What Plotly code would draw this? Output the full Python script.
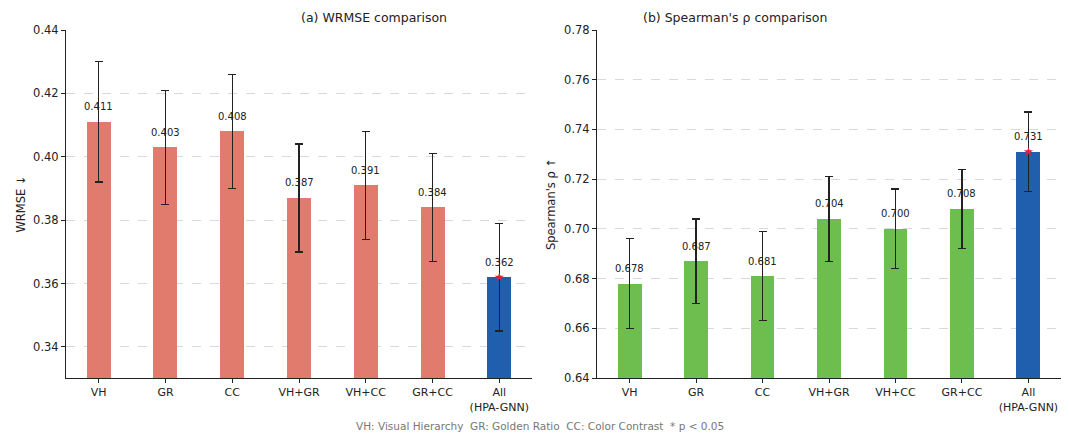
import plotly.graph_objects as go

# Ablation results: mean scores with standard-deviation error bars
categories = ["VH", "GR", "CC", "VH+GR", "VH+CC", "GR+CC", "All"]
tick_labels = ["VH", "GR", "CC", "VH+GR", "VH+CC", "GR+CC", "All<br>(HPA-GNN)"]

wrmse_mean = [0.411, 0.403, 0.408, 0.387, 0.391, 0.384, 0.362]
wrmse_err = [0.019, 0.018, 0.018, 0.017, 0.017, 0.017, 0.017]

rho_mean = [0.678, 0.687, 0.681, 0.704, 0.700, 0.708, 0.731]
rho_err = [0.018, 0.017, 0.018, 0.017, 0.016, 0.016, 0.016]

significant = ["All"]

RED = "#E07B6E"
GREEN = "#6DBE4F"
BLUE = "#1F5FAD"
FONT = "DejaVu Sans"
TXT = "#222222"

W, H = 1069, 436
left_dom = [66 / W, 532 / W]
right_dom = [597 / W, 1061 / W]
y_dom = [(H - 378) / H, (H - 30) / H]

fig = go.Figure()
notes = []


def add_panel(means, errs, base_color, xa, ya):
    colors = [BLUE if c == "All" else base_color for c in categories]
    fig.add_trace(go.Bar(
        x=list(range(len(categories))), y=means,
        marker=dict(color=colors, line=dict(width=0)),
        width=0.36,
        error_y=dict(type="data", array=errs, visible=True,
                     color=TXT, thickness=1.3, width=4),
        xaxis=xa, yaxis=ya, showlegend=False, hoverinfo="skip",
    ))
    # value labels above each bar top
    for i, v in enumerate(means):
        notes.append(dict(
            x=i, y=v, xref=xa, yref=ya, text=f"{v:.3f}",
            showarrow=False, yshift=15, yanchor="middle",
            font=dict(family=FONT, size=10, color=TXT, weight="normal"),
        ))
    # significance markers
    sig_x = [categories.index(c) for c in significant]
    fig.add_trace(go.Scatter(
        x=sig_x, y=[means[i] for i in sig_x], mode="markers",
        marker=dict(symbol="star", size=7, color="#E0203A"),
        xaxis=xa, yaxis=ya, showlegend=False, hoverinfo="skip",
    ))


add_panel(wrmse_mean, wrmse_err, RED, "x", "y")
add_panel(rho_mean, rho_err, GREEN, "x2", "y2")

xaxis_common = dict(
    tickmode="array", tickvals=list(range(len(categories))), ticktext=tick_labels,
    range=[-0.49, 6.49], showline=True, linecolor=TXT, linewidth=1,
    ticks="outside", ticklen=4, tickcolor=TXT, showgrid=False,
    zeroline=False, automargin=False,
    tickfont=dict(family=FONT, size=11, color=TXT),
)
yaxis_common = dict(
    showline=True, linecolor=TXT, linewidth=1, ticks="outside",
    ticklen=4, tickcolor=TXT, showgrid=True, gridcolor="#d9d9d9",
    griddash="dash", gridwidth=0.8, zeroline=False, automargin=False,
    tickfont=dict(family=FONT, size=11.5, color=TXT),
)

title_font = dict(family=FONT, size=12.5, color=TXT, weight="normal")
notes += [
    dict(text="(a) WRMSE comparison", x=(left_dom[0] + left_dom[1]) / 2,
         y=(H - 18) / H, xref="paper", yref="paper", showarrow=False,
         yanchor="middle", font=title_font),
    dict(text="(b) Spearman's ρ comparison",
         x=(right_dom[0] + right_dom[1]) / 2, y=(H - 18) / H,
         xref="paper", yref="paper", showarrow=False,
         yanchor="middle", font=title_font),
    dict(text="VH: Visual Hierarchy  GR: Golden Ratio  CC: Color Contrast  * p < 0.05",
         x=540 / W, y=(H - 426) / H, xref="paper", yref="paper",
         showarrow=False, yanchor="middle",
         font=dict(family=FONT, size=10.5, color="#777777", weight="normal")),
]

fig.update_layout(
    width=W, height=H,
    margin=dict(l=0, r=0, t=0, b=0, autoexpand=False),
    paper_bgcolor="white", plot_bgcolor="white",
    bargap=0,
    xaxis=dict(domain=left_dom, anchor="y", **xaxis_common),
    xaxis2=dict(domain=right_dom, anchor="y2", **xaxis_common),
    yaxis=dict(domain=y_dom, anchor="x", range=[0.3302, 0.44], dtick=0.02,
               tickformat=".2f",
               title=dict(text="WRMSE ↓", standoff=5,
                          font=dict(family=FONT, size=11.5, color=TXT)),
               **yaxis_common),
    yaxis2=dict(domain=y_dom, anchor="x2", range=[0.64, 0.78], dtick=0.02,
                tickformat=".2f",
                title=dict(text="Spearman's ρ ↑", standoff=6,
                           font=dict(family=FONT, size=11.5, color=TXT)),
                **yaxis_common),
    annotations=notes,
)

fig.write_html("out.html")
